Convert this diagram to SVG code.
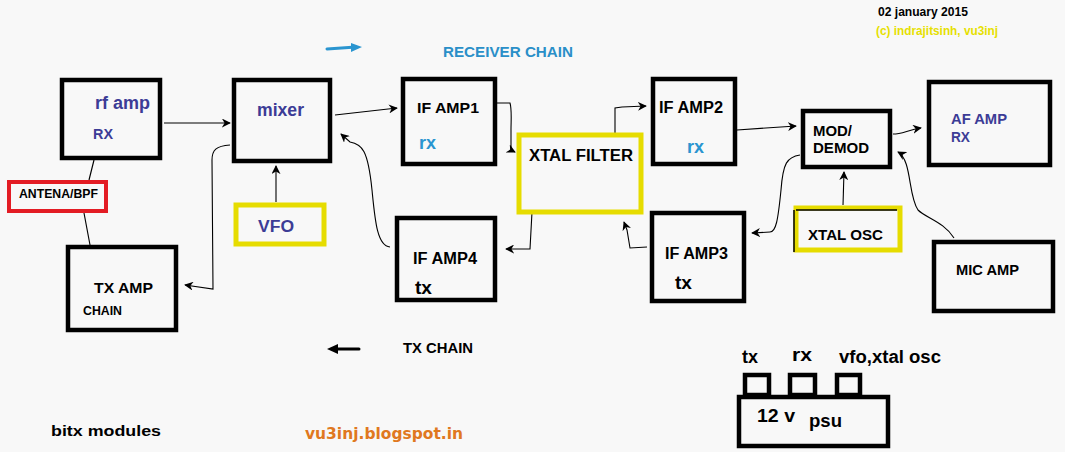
<svg xmlns="http://www.w3.org/2000/svg" width="1065" height="452" viewBox="0 0 1065 452">
<defs>
<marker id="ah" viewBox="0 0 10 10" refX="9" refY="5" markerWidth="9" markerHeight="9" markerUnits="userSpaceOnUse" orient="auto">
<path d="M0,0 L10,5 L0,10 L3,5 Z" fill="#000"/>
</marker>
<style>
text{font-family:"Liberation Sans",Arial,sans-serif;font-weight:bold}
.bx{fill:none;stroke:#000;stroke-width:4.5}
.yb{fill:none;stroke:#e6dc00;stroke-width:5}
.c{fill:none;stroke:#000;stroke-width:1.1}
.a{marker-end:url(#ah)}
.bl{fill:#3c3c96}
.cy{fill:#2a95d0}
</style>
</defs>
<rect width="1065" height="452" fill="#f8f8f8"/>

<g id="connectors">
<path class="c" d="M94,160 L89,180"/>
<path class="c" d="M84,213 L90,245"/>
<path class="c a" d="M164,123 L230,123"/>
<path class="c a" d="M230,145 C216,146 212,150 212,160 L213,289 L185,285"/>
<path class="c a" d="M276,202 L276,166"/>
<path class="c a" d="M335,115 L397,108"/>
<path class="c a" d="M390,247 C377,246 375,220 372,190 C368,150 362,144 350,142 L341,134"/>
<path class="c a" d="M497,103 L510,103 C512,110 511,120 511,130 L511,150 L515,152"/>
<path class="c a" d="M532,212 L530,249 L506,249"/>
<path class="c a" d="M647,247 L630,248 L627,230 L624,222"/>
<path class="c a" d="M615,133 L615,108 L622,107 L646,106"/>
<path class="c a" d="M737,130 L796,126"/>
<path class="c a" d="M893,134 C902,134 908,130 921,128"/>
<path class="c a" d="M800,155 C787,157 783,163 781,190 C778,220 776,232 770,232 L752,233"/>
<path class="c a" d="M843,205 L844,172"/>
<path class="c a" d="M954,238 C944,222 926,218 918,210 C908,196 912,160 898,152"/>
<path d="M327,49 L356,47" stroke="#2a95d0" stroke-width="3" fill="none" stroke-linecap="round"/>
<path d="M351,43 L362,47 L351,52 Z" fill="#2a95d0"/>
<path d="M359,349 L333,349" stroke="#000" stroke-width="3" fill="none" stroke-linecap="round"/>
<path d="M338,344 L327,349 L338,354 Z" fill="#000"/>
</g>

<g id="rfamp"><rect class="bx" x="62" y="80" width="98" height="78"/><text x="95" y="109" font-size="18" class="bl" textLength="55" lengthAdjust="spacingAndGlyphs">rf amp</text><text x="93" y="139" font-size="14.5" class="bl" textLength="20" lengthAdjust="spacingAndGlyphs">RX</text></g>
<g id="mixer"><rect class="bx" x="234" y="80" width="96" height="81"/><text x="257" y="116" font-size="17.5" class="bl" textLength="47" lengthAdjust="spacingAndGlyphs">mixer</text></g>
<g id="antena"><rect x="9" y="182" width="97" height="29" fill="none" stroke="#e31c24" stroke-width="4"/><text x="19" y="198" font-size="12" fill="#000" textLength="79" lengthAdjust="spacingAndGlyphs">ANTENA/BPF</text></g>
<g id="vfo"><rect class="yb" x="236" y="205" width="88" height="39"/><text x="258" y="232" font-size="16" class="bl" textLength="36" lengthAdjust="spacingAndGlyphs">VFO</text></g>
<g id="txamp"><rect class="bx" x="68" y="247" width="108" height="83"/><text x="94" y="293" font-size="15.5" fill="#000" textLength="59" lengthAdjust="spacingAndGlyphs">TX AMP</text><text x="83" y="315" font-size="12" fill="#000" textLength="39" lengthAdjust="spacingAndGlyphs">CHAIN</text></g>
<g id="ifamp1"><rect class="bx" x="403" y="79" width="92" height="85"/><text x="417" y="113" font-size="15.5" fill="#000" textLength="62" lengthAdjust="spacingAndGlyphs">IF AMP1</text><text x="419" y="149" font-size="18" class="cy" textLength="17" lengthAdjust="spacingAndGlyphs">rx</text></g>
<g id="xtalfilter"><rect class="yb" x="519" y="135" width="122" height="77"/><text x="529" y="161" font-size="16" fill="#000" textLength="104" lengthAdjust="spacingAndGlyphs">XTAL FILTER</text></g>
<g id="ifamp4"><rect class="bx" x="397" y="218" width="98" height="82"/><text x="413" y="264" font-size="16" fill="#000" textLength="64" lengthAdjust="spacingAndGlyphs">IF AMP4</text><text x="415" y="294" font-size="19" fill="#000" textLength="17" lengthAdjust="spacingAndGlyphs">tx</text></g>
<g id="ifamp2"><rect class="bx" x="653" y="79" width="82" height="85"/><text x="659" y="113" font-size="16" fill="#000" textLength="64" lengthAdjust="spacingAndGlyphs">IF AMP2</text><text x="687" y="153" font-size="18" class="cy" textLength="17" lengthAdjust="spacingAndGlyphs">rx</text></g>
<g id="ifamp3"><rect class="bx" x="652" y="213" width="92" height="88"/><text x="665" y="259" font-size="16" fill="#000" textLength="63" lengthAdjust="spacingAndGlyphs">IF AMP3</text><text x="675" y="289" font-size="19" fill="#000" textLength="17" lengthAdjust="spacingAndGlyphs">tx</text></g>
<g id="moddemod"><rect class="bx" x="803" y="111" width="87" height="56"/><text x="813" y="136" font-size="15" fill="#000" textLength="39" lengthAdjust="spacingAndGlyphs">MOD/</text><text x="813" y="153" font-size="15" fill="#000" textLength="56" lengthAdjust="spacingAndGlyphs">DEMOD</text></g>
<g id="xtalosc"><rect class="yb" x="796" y="208" width="104" height="42"/><path d="M794,210 L794,252 M796,210 L897,210" stroke="#000" stroke-width="1.5" fill="none"/><text x="808" y="240" font-size="15" fill="#000" textLength="75" lengthAdjust="spacingAndGlyphs">XTAL OSC</text></g>
<g id="afamp"><rect class="bx" x="929" y="82" width="121" height="83"/><text x="951" y="124" font-size="15" class="bl" textLength="56" lengthAdjust="spacingAndGlyphs">AF AMP</text><text x="951" y="142" font-size="14.5" class="bl" textLength="19" lengthAdjust="spacingAndGlyphs">RX</text></g>
<g id="micamp"><rect class="bx" x="934" y="242" width="119" height="69"/><text x="956" y="275" font-size="14.5" fill="#000" textLength="63" lengthAdjust="spacingAndGlyphs">MIC AMP</text></g>

<g id="psu">
<rect class="bx" x="739" y="397" width="149" height="49"/>
<rect class="bx" x="745" y="375" width="24" height="20"/>
<rect class="bx" x="790" y="375" width="25" height="20"/>
<rect class="bx" x="837" y="375" width="23" height="20"/>
<text x="742" y="363" font-size="18" fill="#000" textLength="16" lengthAdjust="spacingAndGlyphs">tx</text>
<text x="792" y="361" font-size="18" fill="#000" textLength="20" lengthAdjust="spacingAndGlyphs">rx</text>
<text x="839" y="363" font-size="18" fill="#000" textLength="102" lengthAdjust="spacingAndGlyphs">vfo,xtal osc</text>
<text x="757" y="422" font-size="18" fill="#000" textLength="38" lengthAdjust="spacingAndGlyphs">12 v</text>
<text x="809" y="427" font-size="18" fill="#000" textLength="33" lengthAdjust="spacingAndGlyphs">psu</text>
</g>

<g id="labels">
<text x="878" y="16" font-size="12" fill="#000" textLength="90" lengthAdjust="spacingAndGlyphs">02 january 2015</text>
<text x="876" y="35" font-size="12" fill="#e6e000" textLength="122" lengthAdjust="spacingAndGlyphs">(c) indrajitsinh, vu3inj</text>
<text x="443" y="57" font-size="15" fill="#2a8fc8" textLength="130" lengthAdjust="spacingAndGlyphs">RECEIVER CHAIN</text>
<text x="403" y="353" font-size="15" fill="#000" textLength="70" lengthAdjust="spacingAndGlyphs">TX CHAIN</text>
<text x="305" y="439" font-size="15.5" fill="#e07820" style="font-family:'DejaVu Sans',Verdana,sans-serif" textLength="158" lengthAdjust="spacingAndGlyphs">vu3inj.blogspot.in</text>
<text x="51" y="436" font-size="15.5" fill="#000" textLength="110" lengthAdjust="spacingAndGlyphs">bitx modules</text>
</g>
</svg>
